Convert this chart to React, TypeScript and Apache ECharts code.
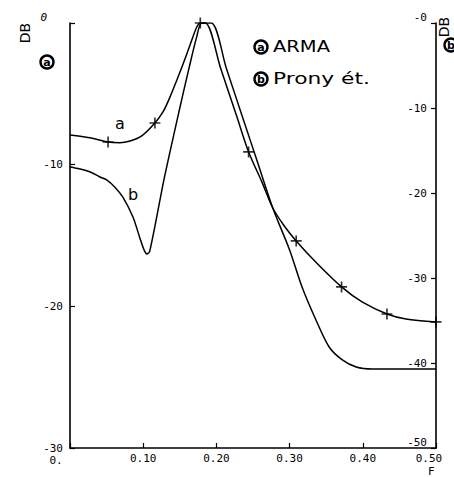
import React, { useEffect, useRef } from "react";
import * as echarts from "echarts";

// Frequency (normalised) and level (dB)
const freqA = [0, 0.027, 0.052, 0.068, 0.082, 0.098, 0.116, 0.127, 0.136, 0.15, 0.163, 0.173, 0.178, 0.185, 0.206, 0.228, 0.244, 0.262, 0.277, 0.293, 0.309, 0.337, 0.371, 0.399, 0.433, 0.459, 0.5];
const dbA = [-7.9, -8.1, -8.4, -8.45, -8.33, -7.97, -7.06, -6.28, -5.3, -3.5, -1.7, -0.3, 0, 0, -3.23, -6.62, -9.1, -11.2, -13.06, -14.35, -15.38, -16.94, -18.63, -19.69, -20.54, -20.89, -21.1];
const markFreqA = [0.052, 0.116, 0.178, 0.244, 0.309, 0.371, 0.433, 0.5];
const markDbA = [-8.4, -7.06, 0, -9.1, -15.38, -18.63, -20.54, -21.1];

const freqB = [0, 0.0136, 0.027, 0.041, 0.05, 0.061, 0.072, 0.086, 0.095, 0.101, 0.105, 0.109, 0.129, 0.15, 0.163, 0.173, 0.18, 0.193, 0.214, 0.237, 0.256, 0.277, 0.3, 0.317, 0.336, 0.354, 0.372, 0.391, 0.413, 0.459, 0.5];
const dbB = [-10.16, -10.3, -10.5, -10.87, -11.08, -11.57, -12.28, -13.69, -15.1, -16.0, -16.3, -16.1, -10.9, -6.0, -3.1, -1.0, 0, 0, -3.27, -6.84, -9.8, -13.06, -16.02, -18.63, -20.96, -22.87, -23.78, -24.28, -24.42, -24.42, -24.42];

const xTicks = [0, 0.1, 0.2, 0.3, 0.4, 0.5];
const xTickLabels = ["0.", "0.10", "0.20", "0.30", "0.40", "0.50"];
const leftTickLabels: Record<string, string> = { "0": "0", "-10": "-10", "-20": "-20", "-30": "-30" };
const rightTickLabels: Record<string, string> = { "0": "-0", "-10": "-10", "-20": "-20", "-30": "-30", "-40": "-40", "-50": "-50" };

const legendItems = ["ARMA", "Prony ét."];
const curveLetters = ["a", "b"];

const MONO = "DejaVu Sans Mono";
const SANS = "DejaVu Sans";
const CROSS = "path://M4.25,0H5.75V4.25H10V5.75H5.75V10H4.25V5.75H0V4.25H4.25Z";

function circled(cx: number, cy: number, letter: string) {
  return [
    { type: "circle", shape: { cx, cy, r: 6.5 }, style: { fill: "none", stroke: "#000", lineWidth: 2.4 }, z: 10 },
    {
      type: "text",
      x: cx,
      y: cy,
      style: { text: letter, fontSize: 11, fontWeight: "bold", fontFamily: SANS, fill: "#000", align: "center", verticalAlign: "middle" },
      z: 10,
    },
  ];
}

export default function App() {
  const ref = useRef<HTMLDivElement>(null);
  useEffect(() => {
    if (!ref.current) return;
    const chart = echarts.init(ref.current, null, { renderer: "svg" });
    const dataA = freqA.map((f, i) => [f, dbA[i]]);
    const dataB = freqB.map((f, i) => [f, dbB[i]]);
    const marks = markFreqA.map((f, i) => [f, markDbA[i]]);
    const axisLabelBase = { fontFamily: MONO, fontSize: 11, color: "#000" };
    chart.setOption({
      animation: false,
      backgroundColor: "#fff",
      grid: { left: 70, right: 18, top: 23, bottom: 29, containLabel: false },
      xAxis: {
        type: "value",
        min: 0,
        max: 0.5,
        interval: 0.1,
        axisLine: { show: true, onZero: false, lineStyle: { color: "#000", width: 1.6 } },
        axisTick: { show: true, inside: true, length: 5, lineStyle: { color: "#000", width: 1.2 } },
        splitLine: { show: false },
        axisLabel: {
          ...axisLabelBase,
          margin: 5,
          formatter: (v: number) => {
            const idx = xTicks.findIndex((t) => Math.abs(t - v) < 1e-6);
            if (idx <= 0) return "";
            const s = xTickLabels[idx];
            if (idx === xTicks.length - 1) return "{e|" + s + "}";
            return s;
          },
          rich: {
            e: { ...axisLabelBase, padding: [0, 14, 0, 0] },
          },
        },
      },
      yAxis: [
        {
          type: "value",
          position: "left",
          min: -30,
          max: 0,
          interval: 10,
          axisLine: { show: true, onZero: false, lineStyle: { color: "#000", width: 1.6 } },
          axisTick: { show: true, inside: true, length: 5, lineStyle: { color: "#000", width: 1.2 } },
          splitLine: { show: false },
          axisLabel: {
            ...axisLabelBase,
            margin: 7,
            formatter: (v: number) => {
              const s = leftTickLabels[String(Math.round(v))] ?? "";
              if (Math.round(v) === 0) return "{t|" + s + "}";
              return s;
            },
            rich: { t: { ...axisLabelBase, fontStyle: "italic", padding: [0, 16, 12, 0] } },
          },
        },
        {
          type: "value",
          position: "right",
          min: -50,
          max: 0,
          interval: 10,
          axisLine: { show: true, onZero: false, lineStyle: { color: "#000", width: 1.6 } },
          axisTick: { show: true, inside: true, length: 5, lineStyle: { color: "#000", width: 1.2 } },
          splitLine: { show: false },
          axisLabel: {
            ...axisLabelBase,
            inside: true,
            margin: 9,
            formatter: (v: number) => {
              const r = Math.round(v);
              const s = rightTickLabels[String(r)] ?? "";
              if (r === 0 || r === -50) return "{t|" + s + "}";
              return s;
            },
            rich: { t: { ...axisLabelBase, padding: [0, 0, 12, 0] } },
          },
        },
      ],
      series: [
        {
          type: "line",
          name: "a",
          data: dataA,
          yAxisIndex: 0,
          showSymbol: false,
          symbol: "none",
          smooth: 0.3,
          lineStyle: { color: "#000", width: 1.5 },
          z: 3,
        },
        {
          type: "line",
          name: "b",
          data: dataB,
          yAxisIndex: 0,
          showSymbol: false,
          symbol: "none",
          smooth: 0.3,
          lineStyle: { color: "#000", width: 1.5 },
          z: 3,
        },
        {
          type: "scatter",
          name: "a marks",
          data: marks,
          yAxisIndex: 0,
          symbol: CROSS,
          symbolSize: 11,
          itemStyle: { color: "#000" },
          z: 4,
        },
      ],
      graphic: [
        {
          type: "text",
          x: 56,
          y: 460,
          style: { text: xTickLabels[0], fontSize: 11, fontFamily: MONO, fill: "#000", align: "center", verticalAlign: "middle" },
        },
        {
          type: "text",
          x: 25,
          y: 33,
          rotation: Math.PI / 2,
          style: { text: "DB", fontSize: 14, fontFamily: SANS, fill: "#000", align: "center", verticalAlign: "middle" },
        },
        ...circled(47, 62, curveLetters[0]),
        {
          type: "text",
          x: 444,
          y: 27,
          rotation: Math.PI / 2,
          style: { text: "DB", fontSize: 14, fontFamily: SANS, fill: "#000", align: "center", verticalAlign: "middle" },
        },
        ...circled(451, 45, curveLetters[1]),
        ...circled(261, 47, curveLetters[0]),
        ...circled(261, 79, curveLetters[1]),
        {
          type: "text",
          x: 273,
          y: 47,
          scaleX: 1.3,
          style: { text: legendItems[0], fontSize: 15, fontFamily: SANS, fill: "#000", align: "left", verticalAlign: "middle" },
        },
        {
          type: "text",
          x: 273,
          y: 79,
          scaleX: 1.45,
          style: { text: legendItems[1], fontSize: 15, fontFamily: SANS, fill: "#000", align: "left", verticalAlign: "middle" },
        },
        {
          type: "text",
          x: 120,
          y: 123,
          style: { text: curveLetters[0], fontSize: 16, fontFamily: SANS, fill: "#000", align: "center", verticalAlign: "middle" },
        },
        {
          type: "text",
          x: 133,
          y: 194,
          style: { text: curveLetters[1], fontSize: 16, fontFamily: SANS, fill: "#000", align: "center", verticalAlign: "middle" },
        },
        {
          type: "text",
          x: 428,
          y: 466,
          style: { text: "F", fontSize: 11, fontFamily: MONO, fill: "#000", align: "left", verticalAlign: "top" },
        },
      ],
    });
    return () => chart.dispose();
  }, []);
  return <div ref={ref} style={{ position: "absolute", left: 0, top: 0, width: 454, height: 477 }} />;
}
